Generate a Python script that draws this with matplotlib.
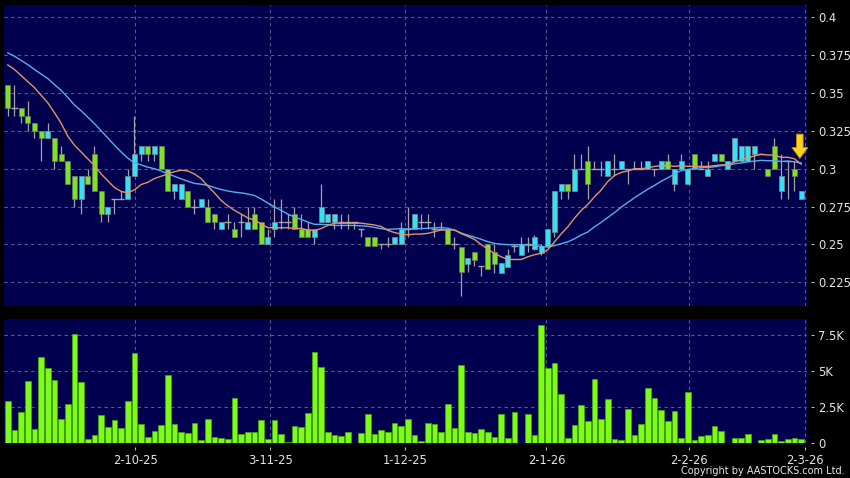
import numpy as np
import pandas as pd
import matplotlib
matplotlib.use('Agg')
import matplotlib.pyplot as plt

# daily candles, 120 sessions (early Sep 2025 .. 2-3-26)
open_ = [0.355, 0.340, 0.340, 0.335, 0.330, 0.325, 0.320, 0.320, 0.310, 0.305,
         0.295, 0.280, 0.295, 0.310, 0.285, 0.270, 0.280, 0.280, 0.280, 0.295,
         0.310, 0.315, 0.310, 0.315, 0.300, 0.285, 0.280, 0.285, 0.275, 0.275,
         0.275, 0.270, 0.260, 0.265, 0.260, 0.265, 0.260, 0.270, 0.265, 0.250,
         0.260, 0.265, 0.265, 0.270, 0.260, 0.260, 0.255, 0.265, 0.265, 0.265,
         0.265, 0.265, 0.265, 0.260, 0.255, 0.255, 0.250, 0.250, 0.250, 0.250,
         0.260, 0.260, 0.265, 0.265, 0.260, 0.260, 0.260, 0.250, 0.248, 0.237,
         0.245, 0.236, 0.250, 0.245, 0.231, 0.235, 0.249, 0.243, 0.250, 0.247,
         0.244, 0.249, 0.258, 0.285, 0.290, 0.285, 0.300, 0.305, 0.300, 0.300,
         0.295, 0.300, 0.300, 0.300, 0.300, 0.300, 0.300, 0.300, 0.300, 0.305,
         0.290, 0.300, 0.290, 0.310, 0.300, 0.295, 0.305, 0.310, 0.300, 0.305,
         0.305, 0.305, 0.310, 0.310, 0.300, 0.315, 0.285, 0.305, 0.300, 0.280]
high = [0.355, 0.355, 0.340, 0.345, 0.330, 0.325, 0.330, 0.320, 0.315, 0.305,
        0.295, 0.295, 0.300, 0.315, 0.285, 0.275, 0.280, 0.285, 0.300, 0.335,
        0.315, 0.315, 0.315, 0.315, 0.300, 0.290, 0.290, 0.285, 0.280, 0.280,
        0.280, 0.270, 0.265, 0.270, 0.265, 0.270, 0.275, 0.275, 0.265, 0.260,
        0.280, 0.280, 0.270, 0.275, 0.270, 0.265, 0.260, 0.290, 0.270, 0.270,
        0.270, 0.270, 0.265, 0.260, 0.255, 0.255, 0.250, 0.255, 0.255, 0.265,
        0.275, 0.270, 0.270, 0.270, 0.265, 0.265, 0.260, 0.255, 0.248, 0.241,
        0.245, 0.236, 0.250, 0.250, 0.238, 0.247, 0.250, 0.255, 0.255, 0.256,
        0.250, 0.260, 0.285, 0.290, 0.290, 0.310, 0.310, 0.315, 0.305, 0.305,
        0.305, 0.310, 0.305, 0.300, 0.305, 0.305, 0.305, 0.300, 0.305, 0.310,
        0.300, 0.310, 0.300, 0.310, 0.305, 0.305, 0.310, 0.310, 0.305, 0.320,
        0.315, 0.315, 0.315, 0.310, 0.300, 0.320, 0.310, 0.305, 0.305, 0.285]
low = [0.335, 0.335, 0.330, 0.325, 0.320, 0.305, 0.320, 0.300, 0.305, 0.290,
       0.275, 0.270, 0.290, 0.285, 0.265, 0.265, 0.270, 0.280, 0.280, 0.295,
       0.305, 0.305, 0.305, 0.300, 0.285, 0.280, 0.280, 0.275, 0.270, 0.275,
       0.265, 0.260, 0.260, 0.260, 0.255, 0.255, 0.260, 0.260, 0.250, 0.250,
       0.255, 0.260, 0.260, 0.260, 0.255, 0.255, 0.250, 0.265, 0.265, 0.260,
       0.260, 0.260, 0.260, 0.255, 0.249, 0.249, 0.247, 0.248, 0.250, 0.250,
       0.255, 0.260, 0.260, 0.260, 0.255, 0.260, 0.250, 0.247, 0.216, 0.232,
       0.236, 0.229, 0.234, 0.231, 0.231, 0.235, 0.245, 0.243, 0.245, 0.246,
       0.243, 0.248, 0.255, 0.280, 0.280, 0.285, 0.300, 0.280, 0.300, 0.295,
       0.295, 0.295, 0.300, 0.290, 0.300, 0.300, 0.300, 0.295, 0.300, 0.300,
       0.285, 0.300, 0.290, 0.300, 0.300, 0.295, 0.305, 0.305, 0.300, 0.305,
       0.305, 0.305, 0.300, 0.310, 0.295, 0.300, 0.280, 0.280, 0.285, 0.280]
close = [0.340, 0.340, 0.335, 0.330, 0.325, 0.320, 0.325, 0.305, 0.305, 0.290,
         0.280, 0.295, 0.290, 0.285, 0.270, 0.275, 0.280, 0.280, 0.295, 0.310,
         0.315, 0.310, 0.315, 0.300, 0.285, 0.290, 0.290, 0.275, 0.275, 0.280,
         0.265, 0.265, 0.265, 0.265, 0.255, 0.265, 0.265, 0.260, 0.250, 0.255,
         0.265, 0.265, 0.265, 0.260, 0.255, 0.255, 0.260, 0.275, 0.270, 0.270,
         0.265, 0.265, 0.265, 0.260, 0.249, 0.249, 0.250, 0.250, 0.255, 0.260,
         0.260, 0.270, 0.265, 0.265, 0.260, 0.260, 0.250, 0.250, 0.232, 0.241,
         0.240, 0.236, 0.234, 0.237, 0.238, 0.243, 0.249, 0.250, 0.250, 0.255,
         0.249, 0.260, 0.285, 0.290, 0.285, 0.300, 0.300, 0.290, 0.300, 0.300,
         0.305, 0.300, 0.305, 0.300, 0.300, 0.300, 0.305, 0.300, 0.305, 0.300,
         0.300, 0.305, 0.300, 0.300, 0.300, 0.300, 0.310, 0.305, 0.305, 0.320,
         0.315, 0.315, 0.315, 0.310, 0.295, 0.300, 0.295, 0.305, 0.295, 0.285]
# volume in thousands of shares
volume_k = [2.94, 0.94, 2.14, 4.32, 0.99, 5.98, 5.17, 4.39, 1.66, 2.74,
            7.54, 4.23, 0.32, 0.55, 1.95, 1.13, 1.61, 1.03, 2.90, 6.25,
            1.33, 0.44, 0.85, 1.26, 4.74, 1.33, 0.76, 0.71, 1.40, 0.25,
            1.68, 0.41, 0.34, 0.30, 3.15, 0.62, 0.80, 0.78, 1.61, 0.30,
            1.61, 0.62, 0.09, 1.22, 1.10, 2.07, 6.28, 5.26, 0.80, 0.57,
            0.53, 0.76, 0.02, 0.69, 2.00, 0.62, 0.90, 0.78, 1.40, 1.20,
            1.68, 0.57, 0.14, 1.38, 1.33, 0.78, 2.69, 1.08, 5.38, 0.76,
            0.71, 1.01, 0.76, 0.46, 2.00, 0.34, 2.18, 0.02, 2.00, 0.60,
            8.16, 5.20, 5.54, 3.40, 0.39, 1.24, 2.64, 1.56, 4.41, 1.66,
            3.08, 0.30, 0.25, 2.34, 0.55, 1.31, 3.84, 3.15, 2.28, 1.52,
            2.25, 0.39, 3.56, 0.23, 0.51, 0.57, 1.22, 0.85, 0.02, 0.34,
            0.34, 0.64, 0.05, 0.23, 0.30, 0.62, 0.14, 0.30, 0.34, 0.32]
# closes before the window, only used to start the moving averages
prior_close = [0.385, 0.390, 0.385, 0.390, 0.380, 0.385, 0.385, 0.380, 0.385, 0.380,
               0.370, 0.375, 0.370, 0.365, 0.370, 0.375, 0.370, 0.375, 0.375]

date_ticks = [19.1, 39.4, 59.6, 80.8, 102.2, 119.6]
date_labels = ['2-10-25', '3-11-25', '1-12-25', '2-1-26', '2-2-26', '2-3-26']
price_ticks = [0.225, 0.25, 0.275, 0.3, 0.325, 0.35, 0.375, 0.4]
vol_ticks = [0, 2.5, 5, 7.5]
vol_labels = ['0', '2.5K', '5K', '7.5K']

NAVY = '#00004e'
GRID = '#5a5a92'
UP = '#33e3f2'
DOWN = '#7ee322'
WICK = '#a4a4a4'
TXT = '#e6e6e6'

o = np.array(open_)
h = np.array(high)
l = np.array(low)
c = np.array(close)
x = np.arange(len(c))

allc = pd.Series(prior_close + close)
ma10 = allc.rolling(10).mean().values[len(prior_close):]
ma20 = allc.rolling(20).mean().values[len(prior_close):]

W, H = 850, 478
fig = plt.figure(figsize=(W / 100, H / 100), dpi=100, facecolor='black')
ax = fig.add_axes([4 / W, 1 - 306 / H, 802.7 / W, 301 / H])
axv = fig.add_axes([4 / W, 1 - 443.3 / H, 802.7 / W, 124 / H], sharex=ax)

for a in (ax, axv):
    a.set_facecolor(NAVY)
    for s in a.spines.values():
        s.set_visible(False)
    a.spines['right'].set_position(('outward', 2.9))
    a.spines['bottom'].set_position(('outward', 2.4))
    a.yaxis.tick_right()
    a.tick_params(axis='y', colors='#bbbbbb', labelcolor=TXT, length=2, width=0.8,
                  pad=3.2, labelsize=8.3)
    a.tick_params(axis='x', colors='#bbbbbb', labelcolor=TXT, length=2, width=0.8,
                  pad=3.5, labelsize=8.3)
    a.grid(True, color=GRID, linestyle=(0, (3, 3)), linewidth=0.8)
    a.set_axisbelow(True)

# price panel
ax.set_xlim(-0.57, 119.83)
ax.set_ylim(0.2093, 0.4081)
ax.set_yticks(price_ticks)
ax.set_yticklabels([f'{v:g}' for v in price_ticks])
ax.set_xticks(date_ticks)
ax.tick_params(axis='x', length=0, labelbottom=False)

ax.vlines(x, l, h, color=WICK, linewidth=0.9, zorder=2)
doji = o == c
body = ~doji
up = body & (c > o)
dn = body & (c < o)
ax.bar(x[up], (c - o)[up], bottom=o[up], width=0.76, color=UP,
       edgecolor='#7a8a90', linewidth=0.5, zorder=3)
ax.bar(x[dn], (o - c)[dn], bottom=c[dn], width=0.76, color=DOWN,
       edgecolor='#6a7a60', linewidth=0.5, zorder=3)
ax.hlines(c[doji], x[doji] - 0.5, x[doji] + 0.5, color=WICK, linewidth=1.0, zorder=3)

ax.plot(x, ma20, color='#56b0ee', linewidth=1.0, zorder=4)
ax.plot(x, ma10, color='#e69468', linewidth=1.0, zorder=4)

ax.annotate('', xy=(118.8, 0.3068), xytext=(118.8, 0.3228),
            arrowprops=dict(facecolor='#ffd21f', edgecolor='#c98a00', linewidth=0.6,
                            width=4.8, headwidth=11.5, headlength=7.8, shrink=0),
            zorder=6)

# volume panel
axv.bar(x, volume_k, width=0.86, color='#7cfc16', edgecolor='#44a010', linewidth=0.6,
        zorder=3)
axv.set_ylim(0, 8.55)
axv.set_yticks(vol_ticks)
axv.set_yticklabels(vol_labels)
axv.set_xticks(date_ticks)
axv.set_xticklabels(date_labels)

fig.text(845 / W, 1 - 471 / H, 'Copyright by AASTOCKS.com Ltd.', color=TXT,
         fontsize=7.0, ha='right', va='center')

fig.savefig('out.png', dpi=100, facecolor='black')
